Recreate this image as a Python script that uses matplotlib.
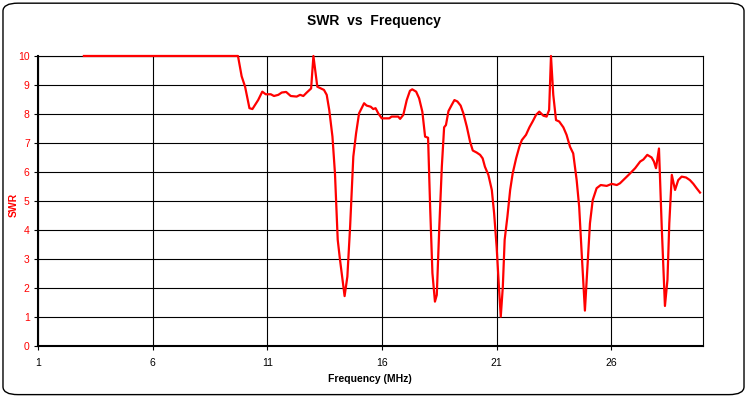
import matplotlib
matplotlib.use('Agg')
import matplotlib.pyplot as plt
from matplotlib.patches import FancyBboxPatch

plt.rcParams['font.family'] = ['Liberation Sans', 'DejaVu Sans']

# 頻率 (MHz) 與 SWR 讀數
freq_mhz = [3.0, 9.72, 9.88, 10.03, 10.22, 10.35, 10.6, 10.78, 10.93, 11.15,
            11.29, 11.48, 11.63, 11.82, 12.02, 12.28, 12.43, 12.57, 12.72, 12.91,
            13.01, 13.18, 13.34, 13.47, 13.59, 13.7, 13.84, 13.95, 14.07, 14.17,
            14.37, 14.49, 14.61, 14.75, 14.87, 15.0, 15.22, 15.33, 15.51, 15.62,
            15.72, 15.84, 15.99, 16.32, 16.42, 16.71, 16.79, 16.93, 17.08, 17.22,
            17.32, 17.49, 17.62, 17.76, 17.88, 18.01, 18.1, 18.2, 18.31, 18.39,
            18.5, 18.61, 18.71, 18.79, 18.9, 19.04, 19.16, 19.29, 19.43, 19.55,
            19.7, 19.84, 19.96, 20.13, 20.28, 20.39, 20.49, 20.64, 20.79, 20.89,
            21.0, 21.1, 21.18, 21.27, 21.35, 21.47, 21.59, 21.7, 21.85, 21.99,
            22.1, 22.28, 22.43, 22.57, 22.72, 22.86, 23.04, 23.18, 23.29, 23.37,
            23.47, 23.59, 23.73, 23.91, 24.05, 24.2, 24.34, 24.49, 24.6, 24.71,
            24.85, 24.96, 25.07, 25.19, 25.36, 25.54, 25.8, 26.02, 26.24, 26.38,
            26.6, 26.82, 27.04, 27.26, 27.4, 27.57, 27.76, 27.86, 27.95, 28.08,
            28.2, 28.34, 28.45, 28.53, 28.64, 28.78, 28.92, 29.07, 29.26, 29.43,
            29.58, 29.72, 29.87]
swr = [10, 10, 9.3, 8.94, 8.2, 8.17, 8.48, 8.77, 8.68, 8.68,
       8.62, 8.66, 8.74, 8.76, 8.62, 8.6, 8.66, 8.62, 8.74, 8.88,
       10, 8.94, 8.88, 8.83, 8.66, 8.14, 7.22, 5.95, 3.66, 2.97,
       1.72, 2.39, 4.11, 6.53, 7.33, 8.02, 8.37, 8.29, 8.25, 8.17,
       8.2, 8.02, 7.85, 7.85, 7.91, 7.91, 7.83, 7.97, 8.48, 8.8,
       8.85, 8.77, 8.54, 8.08, 7.22, 7.18, 4.8, 2.51, 1.53, 1.76,
       4.11, 6.18, 7.54, 7.62, 8.1, 8.31, 8.48, 8.43, 8.29, 8.02,
       7.56, 7.05, 6.74, 6.67, 6.59, 6.47, 6.18, 5.9, 5.38, 4.58,
       3.42, 2.04, 1.01, 2.04, 3.66, 4.46, 5.38, 5.95, 6.47, 6.87,
       7.1, 7.28, 7.54, 7.74, 7.97, 8.08, 7.94, 7.91, 8.14, 10,
       8.66, 7.79, 7.74, 7.54, 7.28, 6.87, 6.64, 5.72, 4.8, 3.19,
       1.22, 2.74, 4.23, 5.03, 5.44, 5.55, 5.52, 5.59, 5.55, 5.61,
       5.78, 5.95, 6.13, 6.36, 6.43, 6.59, 6.5, 6.36, 6.13, 6.81,
       4.11, 1.38, 2.28, 4.23, 5.9, 5.38, 5.72, 5.84, 5.81, 5.72,
       5.59, 5.44, 5.29]

x_ticks = [1, 6, 11, 16, 21, 26]
y_ticks = list(range(0, 11))

fig = plt.figure(figsize=(7.47, 3.97), dpi=100)
# 圖表外框 (圓角)
frame = FancyBboxPatch((0.004, 0.006), 0.992, 0.986, transform=fig.transFigure,
                       boxstyle='round,pad=0,rounding_size=0.02',
                       facecolor='white', edgecolor='black', linewidth=1.0,
                       zorder=-1)
fig.patches.append(frame)

ax = fig.add_axes([0.0509, 0.1285, 0.8902, 0.7305])
# 線畫在框線之上，頂端 10 的平線才看得到
ax.plot(freq_mhz, swr, color='#ff0000', linewidth=1.6, zorder=3, clip_on=False)
ax.set_xlim(1, 30)
ax.set_ylim(0, 10)
ax.set_xticks(x_ticks)
ax.set_yticks(y_ticks)
ax.grid(True, color='black', linewidth=0.8)
ax.set_axisbelow(True)
for s in ax.spines.values():
    s.set_color('black')
    s.set_linewidth(0.8)
ax.spines['left'].set_linewidth(1.5)
ax.spines['bottom'].set_linewidth(1.5)
ax.tick_params(axis='x', length=3, width=0.8, labelsize=7.5, colors='black', pad=6)
ax.tick_params(axis='y', length=3, width=0.8, labelsize=7.5, labelcolor='#ff0000', pad=3)

fig.text(0.5, 0.948, 'SWR  vs  Frequency', ha='center', va='center',
         fontsize=10, fontweight='bold')
fig.text(0.495, 0.045, 'Frequency (MHz)', ha='center', va='center',
         fontsize=7.5, fontweight='bold')
fig.text(0.019, 0.485, 'SWR', ha='center', va='center', rotation=90,
         fontsize=7.5, fontweight='bold', color='#ff0000')

fig.savefig('out.png', dpi=100)
